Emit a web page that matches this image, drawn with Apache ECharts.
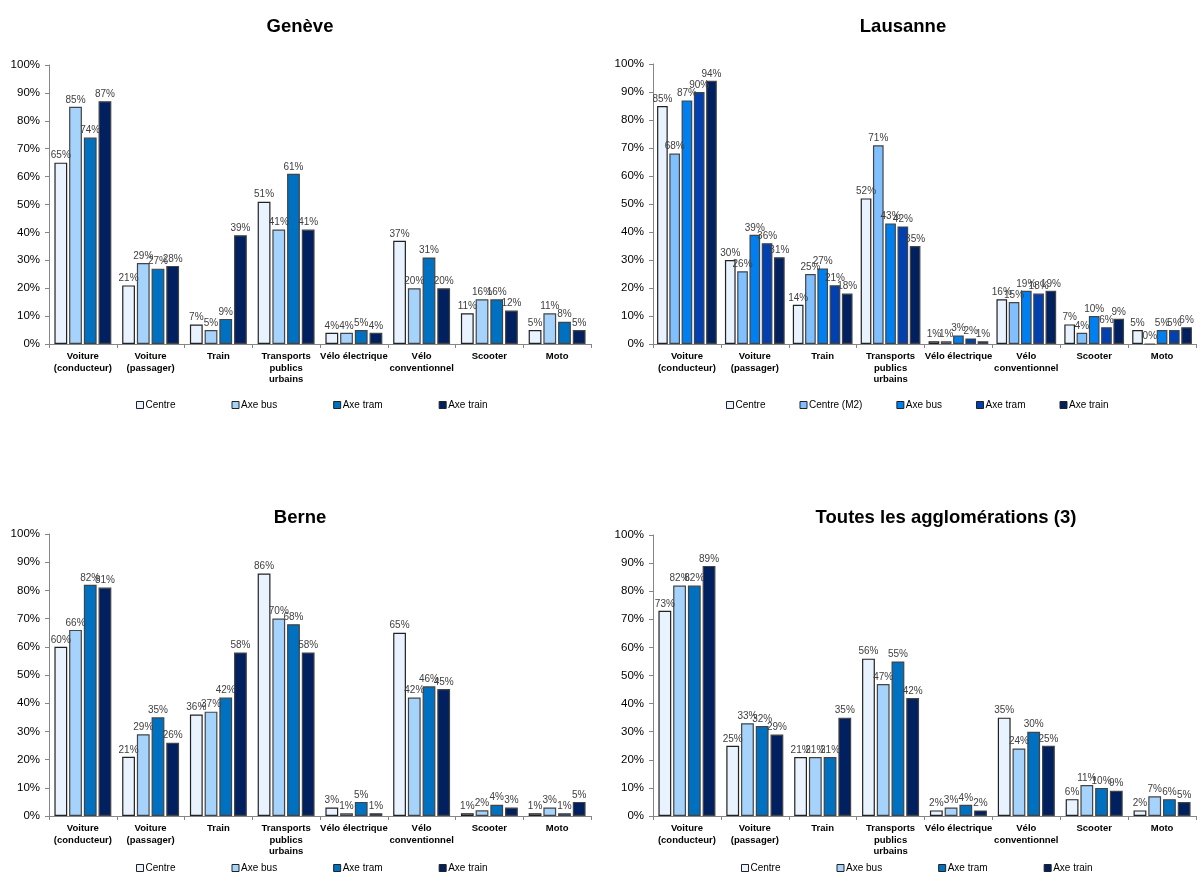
<!DOCTYPE html>
<html>
<head>
<meta charset="utf-8">
<script src="https://cdn.jsdelivr.net/npm/echarts@6/dist/echarts.min.js"></script>
<style>
  html, body { margin: 0; padding: 0; background: #fff; }
  #chart { width: 1203px; height: 882px; }
</style>
</head>
<body>
<div id="chart"></div>
<script>
// Modes de transport (catégories communes aux quatre graphiques)
const categories = [
  'Voiture\n(conducteur)', 'Voiture\n(passager)', 'Train',
  'Transports\npublics\nurbains', 'Vélo électrique', 'Vélo\nconventionnel',
  'Scooter', 'Moto'
];
const yTicks = { min: 0, max: 100, interval: 10 };

// Genève (%)
const geneveNames = ['Centre', 'Axe bus', 'Axe tram', 'Axe train'];
const geneveCentre = [65, 21, 7, 51, 4, 37, 11, 5];
const geneveAxeBus = [85, 29, 5, 41, 4, 20, 16, 11];
const geneveAxeTram = [74, 27, 9, 61, 5, 31, 16, 8];
const geneveAxeTrain = [87, 28, 39, 41, 4, 20, 12, 5];

// Lausanne (%)
const lausanneNames = ['Centre', 'Centre (M2)', 'Axe bus', 'Axe tram', 'Axe train'];
const lausanneCentre = [85, 30, 14, 52, 1, 16, 7, 5];
const lausanneCentreM2 = [68, 26, 25, 71, 1, 15, 4, 0];
const lausanneAxeBus = [87, 39, 27, 43, 3, 19, 10, 5];
const lausanneAxeTram = [90, 36, 21, 42, 2, 18, 6, 5];
const lausanneAxeTrain = [94, 31, 18, 35, 1, 19, 9, 6];

// Berne (%)
const berneNames = ['Centre', 'Axe bus', 'Axe tram', 'Axe train'];
const berneCentre = [60, 21, 36, 86, 3, 65, 1, 1];
const berneAxeBus = [66, 29, 37, 70, 1, 42, 2, 3];
const berneAxeTram = [82, 35, 42, 68, 5, 46, 4, 1];
const berneAxeTrain = [81, 26, 58, 58, 1, 45, 3, 5];

// Toutes les agglomérations (%)
const toutesNames = ['Centre', 'Axe bus', 'Axe tram', 'Axe train'];
const toutesCentre = [73, 25, 21, 56, 2, 35, 6, 2];
const toutesAxeBus = [82, 33, 21, 47, 3, 24, 11, 7];
const toutesAxeTram = [82, 32, 21, 55, 4, 30, 10, 6];
const toutesAxeTrain = [89, 29, 35, 42, 2, 25, 9, 5];

const FONT = '"Liberation Sans", Arial, sans-serif';
const pal4 = ['#e8f3ff', '#a6d3fb', '#0070c0', '#002060'];
const pal5 = ['#e8f3ff', '#80c0ff', '#0080f0', '#0040b0', '#002060'];

const panels = [
  { title: 'Genève', titleX: 300, titleY: 17, grid: { left: 49, top: 65, width: 542, height: 279 },
    names: geneveNames, data: [geneveCentre, geneveAxeBus, geneveAxeTram, geneveAxeTrain],
    colors: pal4, catGap: '16%', legendLeft: 136, legendTop: 400, legendGap: 56 },
  { title: 'Lausanne', titleX: 903, titleY: 17, grid: { left: 653, top: 64, width: 543, height: 280 },
    names: lausanneNames, data: [lausanneCentre, lausanneCentreM2, lausanneAxeBus, lausanneAxeTram, lausanneAxeTrain],
    colors: pal5, catGap: '12%', legendLeft: 726, legendTop: 400, legendGap: 34 },
  { title: 'Berne', titleX: 300, titleY: 508, grid: { left: 49, top: 534, width: 542, height: 282 },
    names: berneNames, data: [berneCentre, berneAxeBus, berneAxeTram, berneAxeTrain],
    colors: pal4, catGap: '16%', legendLeft: 136, legendTop: 863, legendGap: 56 },
  { title: 'Toutes les agglomérations (3)', titleX: 946, titleY: 508, grid: { left: 653, top: 535, width: 543, height: 281 },
    names: toutesNames, data: [toutesCentre, toutesAxeBus, toutesAxeTram, toutesAxeTrain],
    colors: pal4, catGap: '16%', legendLeft: 741, legendTop: 863, legendGap: 56 }
];

const option = {
  animation: false,
  textStyle: { fontFamily: FONT },
  title: [], grid: [], xAxis: [], yAxis: [], legend: [], series: []
};

panels.forEach((p, i) => {
  option.title.push({
    text: p.title, left: p.titleX, top: p.titleY, textAlign: 'center', padding: 0,
    textStyle: { fontFamily: FONT, fontSize: 18.5, fontWeight: 'bold', color: '#000' }
  });
  option.grid.push(Object.assign({ containLabel: false }, p.grid));
  option.xAxis.push({
    type: 'category', gridIndex: i, data: categories,
    axisLine: { lineStyle: { color: '#868686', width: 1 } },
    axisTick: { show: true, length: 4, lineStyle: { color: '#868686' } },
    axisLabel: {
      interval: 0, margin: 7, fontFamily: FONT, fontSize: 9.5, fontWeight: 'bold',
      color: '#000', lineHeight: 11.5
    }
  });
  option.yAxis.push({
    type: 'value', gridIndex: i, min: yTicks.min, max: yTicks.max, interval: yTicks.interval,
    splitLine: { show: false },
    axisLine: { show: true, lineStyle: { color: '#868686', width: 1 } },
    axisTick: { show: true, length: 4, lineStyle: { color: '#868686' } },
    axisLabel: { formatter: '{value}%', margin: 9, fontFamily: FONT, fontSize: 11.5, color: '#000' }
  });
  option.legend.push({
    left: p.legendLeft, top: p.legendTop, orient: 'horizontal',
    itemWidth: 7, itemHeight: 7, itemGap: p.legendGap, icon: 'rect', padding: 0,
    textStyle: { fontFamily: FONT, fontSize: 10, color: '#000', padding: [0, 0, 0, -3] },
    data: p.names.map((n, k) => ({
      name: n, itemStyle: { color: p.colors[k], borderColor: '#222', borderWidth: 1 }
    }))
  });
  p.names.forEach((n, k) => {
    option.series.push({
      type: 'bar', name: n, xAxisIndex: i, yAxisIndex: i,
      data: p.data[k],
      barGap: '15%', barCategoryGap: p.catGap,
      itemStyle: { color: p.colors[k], borderColor: k === 0 ? '#222' : '#444', borderWidth: 1.2 },
      label: {
        show: true, position: 'top', distance: 2, formatter: '{c}%',
        fontFamily: FONT, fontSize: 10, color: '#404040'
      },
      labelLayout: { hideOverlap: false }
    });
  });
});

const chart = echarts.init(document.getElementById('chart'), null, { renderer: 'canvas' });
chart.setOption(option);
</script>
</body>
</html>
